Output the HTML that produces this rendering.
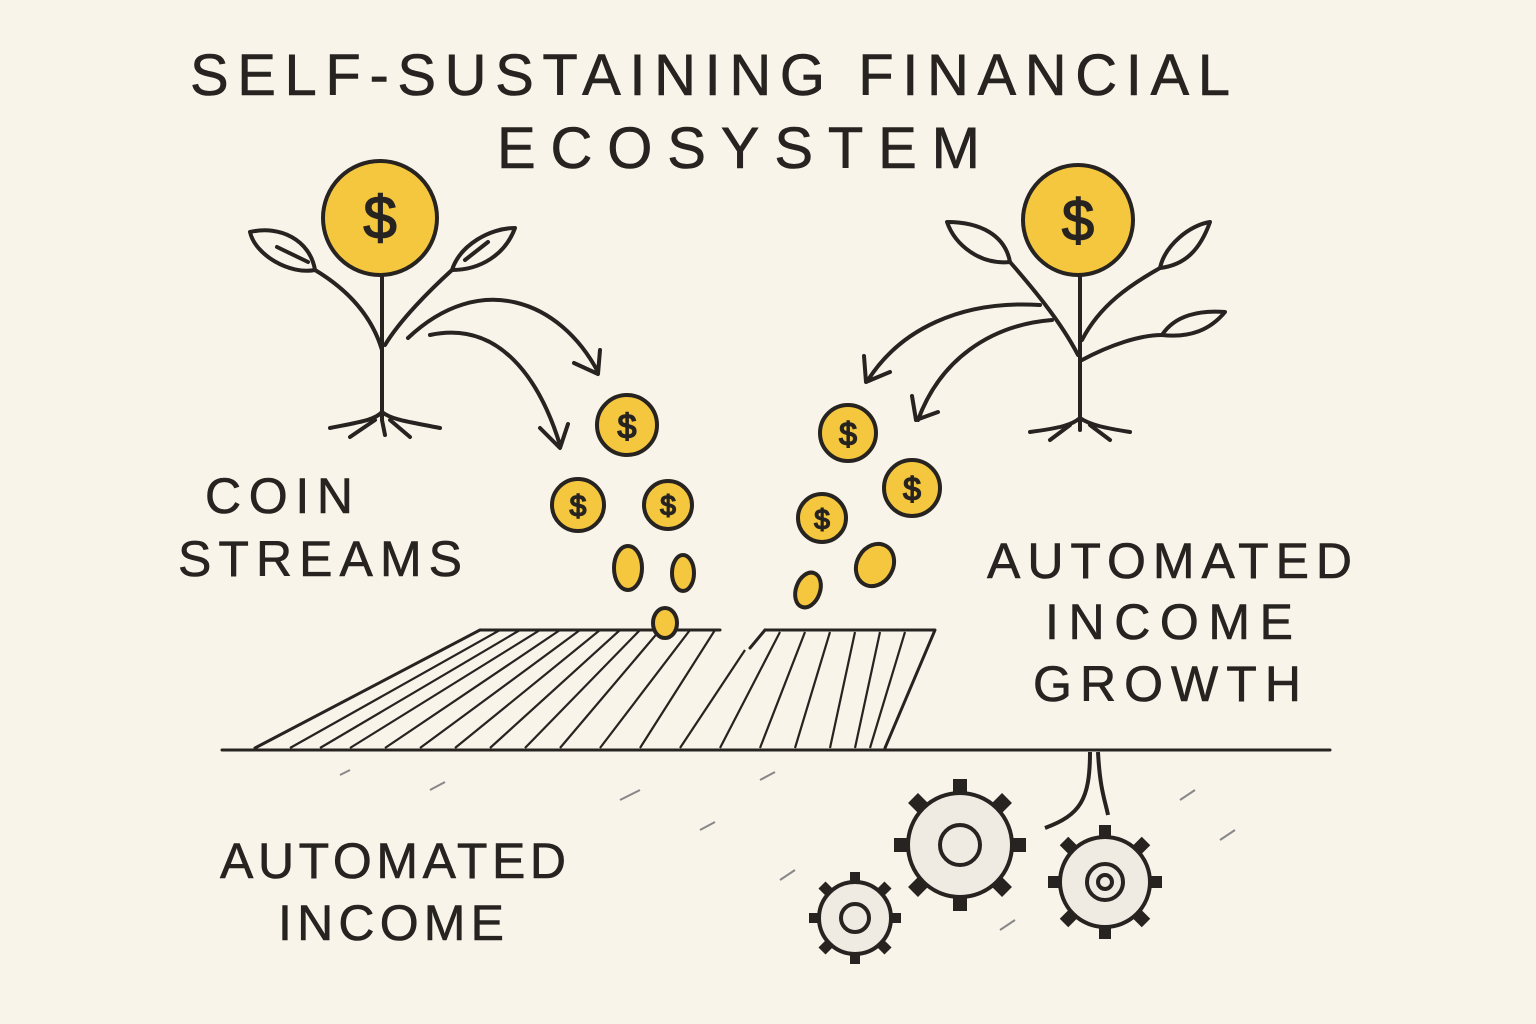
<!DOCTYPE html>
<html><head><style>
body{margin:0;background:#f8f4ea}
svg{display:block}
text{font-family:"Liberation Sans",sans-serif;fill:#262320;}
</style></head><body>
<svg width="1536" height="1024" viewBox="0 0 1536 1024" xmlns="http://www.w3.org/2000/svg">
<rect width="1536" height="1024" fill="#f8f4ea"/>
<g stroke="#262320" stroke-width="0.6">
<text x="190" y="95" font-size="58" textLength="1040" lengthAdjust="spacing">SELF-SUSTAINING  FINANCIAL</text>
<text x="497" y="168" font-size="58" textLength="483" lengthAdjust="spacing">ECOSYSTEM</text>
<text x="205" y="513" font-size="50" textLength="148" lengthAdjust="spacing">COIN</text>
<text x="178" y="576" font-size="50" textLength="284" lengthAdjust="spacing">STREAMS</text>
<text x="987" y="578" font-size="50" textLength="365" lengthAdjust="spacing">AUTOMATED</text>
<text x="1045" y="639" font-size="50" textLength="248" lengthAdjust="spacing">INCOME</text>
<text x="1033" y="701" font-size="50" textLength="268" lengthAdjust="spacing">GROWTH</text>
<text x="220" y="878" font-size="50" textLength="346" lengthAdjust="spacing">AUTOMATED</text>
<text x="278" y="940" font-size="50" textLength="226" lengthAdjust="spacing">INCOME</text>
</g>
<g fill="none" stroke="#262320" stroke-width="4" stroke-linecap="round" stroke-linejoin="round">
<path d="M382 275 L382 420"/>
<path d="M382 350 C370 310 340 285 315 270"/>
<path d="M385 345 C400 320 430 290 452 270"/>
<path d="M315 270 C290 275 255 255 250 232 C280 225 310 240 315 270Z"/>
<path d="M277 247 L308 262"/>
<path d="M452 270 C460 245 490 228 515 228 C505 255 480 270 452 270Z"/>
<path d="M465 260 L488 242"/>
<path d="M330 428 C360 422 375 420 382 412 C392 420 410 422 440 428 M350 437 L375 420 M410 437 L390 420 M382 420 L385 435"/>
<path d="M408 338 C480 270 560 300 598 372 M574 363 L598 374 L600 350"/>
<path d="M430 335 C500 320 540 380 560 445 M540 428 L560 448 L568 424"/>
<path d="M1080 277 L1080 430"/>
<path d="M1078 355 C1060 320 1030 285 1010 262"/>
<path d="M1082 340 C1100 305 1130 285 1160 268"/>
<path d="M1082 360 C1110 345 1140 335 1162 335"/>
<path d="M1010 262 C980 265 955 245 947 222 C980 222 1005 235 1010 262Z"/>
<path d="M1160 268 C1165 245 1190 225 1210 222 C1200 250 1185 265 1160 268Z"/>
<path d="M1162 335 C1175 315 1200 310 1225 312 C1210 330 1190 338 1162 335Z"/>
<path d="M1030 432 C1060 428 1072 425 1080 418 C1090 425 1105 428 1130 432 M1050 440 L1070 425 M1110 440 L1090 425"/>
<path d="M1040 305 C960 300 900 330 868 380 M864 356 L866 382 L890 372"/>
<path d="M1052 320 C990 325 940 360 918 420 M912 396 L916 420 L938 412"/>
<path d="M222 750 L1330 750" stroke-width="3"/>
<path d="M480 630 L720 630 M765 630 L935 630 L885 748 M255 748 L480 630" stroke-width="3"/>
<path d="M765 630 L750 648" stroke-width="3"/>
</g>
<g stroke="#262320" stroke-width="2.2">
<line x1="500" y1="630" x2="290" y2="748"/><line x1="520" y1="630" x2="320" y2="748"/><line x1="540" y1="630" x2="350" y2="748"/><line x1="560" y1="630" x2="385" y2="748"/><line x1="580" y1="630" x2="420" y2="748"/><line x1="600" y1="630" x2="455" y2="748"/><line x1="620" y1="630" x2="490" y2="748"/><line x1="640" y1="630" x2="525" y2="748"/><line x1="660" y1="630" x2="560" y2="748"/><line x1="690" y1="630" x2="600" y2="748"/><line x1="715" y1="630" x2="640" y2="748"/><line x1="745" y1="650" x2="680" y2="748"/><line x1="780" y1="632" x2="720" y2="748"/><line x1="805" y1="632" x2="760" y2="748"/><line x1="830" y1="632" x2="795" y2="748"/><line x1="855" y1="632" x2="830" y2="748"/><line x1="880" y1="632" x2="855" y2="748"/><line x1="905" y1="632" x2="870" y2="748"/>
</g>
<g stroke="#262320" stroke-width="4" fill="#f4c73e">
<circle cx="380" cy="218" r="57"/>
<circle cx="1078" cy="220" r="55"/>
<circle cx="627" cy="425" r="30"/><circle cx="578" cy="505" r="26"/><circle cx="668" cy="505" r="24"/>
<ellipse cx="628" cy="568" rx="14" ry="22"/><ellipse cx="683" cy="573" rx="11" ry="18"/><ellipse cx="665" cy="623" rx="12" ry="15"/>
<circle cx="848" cy="433" r="28"/><circle cx="912" cy="488" r="28"/><circle cx="822" cy="518" r="24"/>
<ellipse cx="875" cy="565" rx="18" ry="22" transform="rotate(30 875 565)"/><ellipse cx="808" cy="590" rx="12" ry="18" transform="rotate(20 808 590)"/>
</g>
<g text-anchor="middle" stroke="#262320" stroke-width="1.5">
<text x="380" y="238" font-size="60">$</text><text x="1078" y="240" font-size="58">$</text>
<text x="627" y="438" font-size="34">$</text><text x="578" y="516" font-size="30">$</text><text x="668" y="515" font-size="28">$</text>
<text x="848" y="445" font-size="32">$</text><text x="912" y="500" font-size="32">$</text><text x="822" y="529" font-size="28">$</text>
</g>
<g fill="none" stroke="#262320" stroke-width="4">
<path d="M1098 752 C1100 790 1105 800 1108 815 M1090 752 C1090 800 1080 815 1045 828"/>
<g transform="translate(960 845)"><circle r="52" fill="#efebe2"/><circle r="20"/>
<g stroke-width="14"><line y1="-52" y2="-66"/><line y1="52" y2="66"/><line x1="-52" x2="-66"/><line x1="52" x2="66"/><line x1="37" y1="37" x2="47" y2="47"/><line x1="-37" y1="37" x2="-47" y2="47"/><line x1="37" y1="-37" x2="47" y2="-47"/><line x1="-37" y1="-37" x2="-47" y2="-47"/></g></g>
<g transform="translate(1105 882)"><circle r="45" fill="#efebe2"/><circle r="18"/><circle r="7"/>
<g stroke-width="12"><line y1="-45" y2="-57"/><line y1="45" y2="57"/><line x1="-45" x2="-57"/><line x1="45" x2="57"/><line x1="32" y1="32" x2="41" y2="41"/><line x1="-32" y1="32" x2="-41" y2="41"/><line x1="32" y1="-32" x2="41" y2="-41"/><line x1="-32" y1="-32" x2="-41" y2="-41"/></g></g>
<g transform="translate(855 918)"><circle r="36" fill="#efebe2"/><circle r="14"/>
<g stroke-width="10"><line y1="-36" y2="-46"/><line y1="36" y2="46"/><line x1="-36" x2="-46"/><line x1="36" x2="46"/><line x1="26" y1="26" x2="33" y2="33"/><line x1="-26" y1="26" x2="-33" y2="33"/><line x1="26" y1="-26" x2="33" y2="-33"/><line x1="-26" y1="-26" x2="-33" y2="-33"/></g></g>
</g>
<g stroke="#888" stroke-width="2">
<line x1="340" y1="775" x2="350" y2="770"/><line x1="430" y1="790" x2="445" y2="782"/><line x1="620" y1="800" x2="640" y2="790"/><line x1="700" y1="830" x2="715" y2="822"/><line x1="760" y1="780" x2="775" y2="772"/><line x1="1180" y1="800" x2="1195" y2="790"/><line x1="1220" y1="840" x2="1235" y2="830"/><line x1="780" y1="880" x2="795" y2="870"/><line x1="1000" y1="930" x2="1015" y2="920"/>
</g>
</svg>
</body></html>
